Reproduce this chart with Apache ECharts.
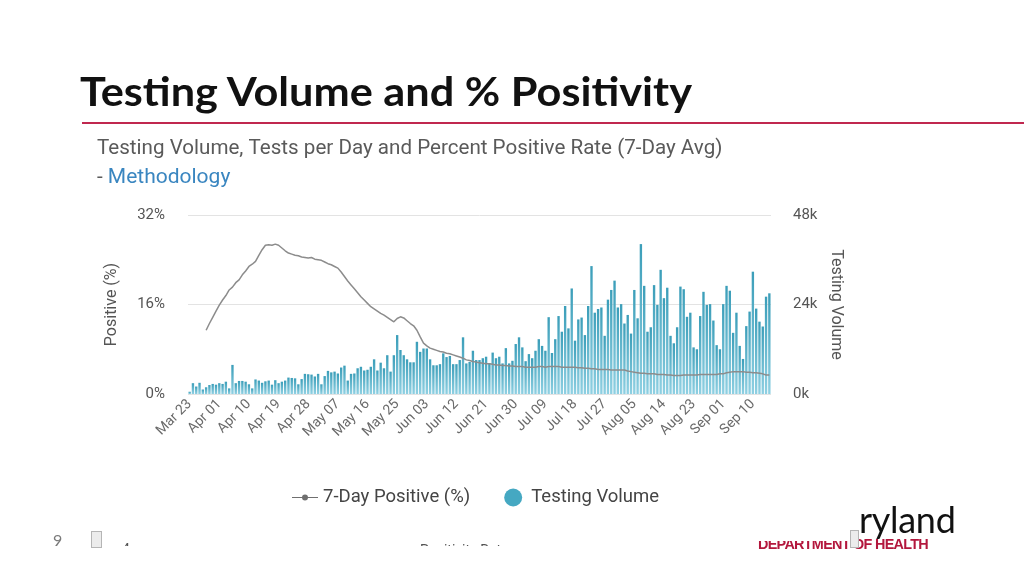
<!DOCTYPE html>
<html>
<head>
<meta charset="utf-8">
<script src="https://cdn.jsdelivr.net/npm/echarts@6/dist/echarts.min.js"></script>
<style>
  html, body { margin: 0; padding: 0; background: #fff; }
  #slide { position: relative; width: 1024px; height: 576px; overflow: hidden; background: #fff; }
  #chart { position: absolute; left: 0; top: 0; width: 1024px; height: 576px; }
  .abs { position: absolute; white-space: nowrap; }
  #title { left: 80px; top: 66px; font-family: Lato, "Open Sans", sans-serif; font-weight: 700; font-size: 41px; color: #111; transform-origin: 0 0; }
  #rule { left: 82px; top: 122px; width: 942px; height: 2px; background: #c0284f; }
  #pagenum { left: 53px; top: 530px; font-family: Lato, sans-serif; font-size: 16px; color: #7a7a7a; }
  .ph { position: absolute; background: #ececec; border: 1px solid #b5b5b5; }
  #ryland { left: 859px; top: 497px; font-family: Lato, "Open Sans", sans-serif; font-size: 36px; color: #111; letter-spacing: -0.3px; }
  #dept { left: 758px; top: 536px; font-family: "Liberation Sans", Arial, sans-serif; font-weight: 700; font-size: 14px; color: #b3173d; letter-spacing: -0.7px; transform-origin: 0 0; }
  #deptMask { left: 755px; top: 528px; width: 95px; height: 13px; background: #fff; }
  .clip { position: absolute; overflow: hidden; }
  .clip span { position: absolute; left: 0; top: 0; font-family: Roboto, sans-serif; color: #555; white-space: nowrap; }
</style>
</head>
<body>
<div id="slide">
  <div id="chart"></div>
  <div id="title" class="abs">Testing Volume and % Positivity</div>
  <div id="rule" class="abs"></div>
  <div id="pagenum" class="abs">9</div>
  <div class="ph" style="left:91px; top:531px; width:9px; height:15px;"></div>
  <div class="clip" style="left:122px; top:541px; width:12px; height:5px;"><span style="font-size:14px;">4</span></div>
  <div class="clip" style="left:420px; top:542px; width:130px; height:4px;"><span style="font-size:14px;">Positivity Rate</span></div>
  <div id="ryland" class="abs">ryland</div>
  <div id="dept" class="abs">DEPARTMENT OF HEALTH</div>
  <div id="deptMask" class="abs"></div>
  <div class="ph" style="left:850px; top:530px; width:7px; height:16px;"></div>
</div>
<script>
// ---- data ----
const startDate = '2020-03-23';
const labelEvery = 9;
const positiveTicks = [0, 16, 32];
const volumeTicks = [0, 24000, 48000];

const testingVolume = [
  600, 2900, 2000, 3000, 1200, 1800, 2400, 2700, 2500, 2900,
  2700, 3300, 1500, 7800, 2900, 3500, 3500, 3300, 2600, 1500,
  3900, 3600, 3000, 3400, 3600, 2500, 3700, 2900, 3300, 3600,
  4400, 4300, 4200, 2600, 4000, 5400, 5300, 5200, 4700, 5400,
  2600, 4800, 6200, 5800, 6000, 5500, 7100, 7600, 3600, 5400,
  5500, 6900, 7300, 6300, 6500, 7300, 9300, 6300, 8400, 6900,
  10400, 6000, 10400, 15800, 11800, 10400, 9300, 8500, 8500, 14000,
  11300, 12200, 12200, 9300, 7700, 7700, 8000, 10900, 9900, 10200,
  8000, 8000, 9100, 15200, 8200, 8600, 11600, 9100, 9100, 9600,
  10000, 8200, 11100, 9600, 10000, 8200, 12300, 8200, 8900, 13400,
  15200, 12500, 8800, 10700, 9600, 11600, 14700, 12900, 11600, 20600,
  11000, 14700, 20900, 16700, 23600, 17600, 28300, 14300, 20000, 20500,
  15800, 23600, 34300, 21800, 22800, 23200, 15600, 25300, 27900, 30400,
  23200, 24100, 18900, 21200, 16200, 27900, 20300, 40200, 29000, 16700,
  17900, 29200, 23900, 33300, 25700, 28500, 15600, 13600, 17900, 28800,
  28100, 20700, 21800, 12500, 12000, 20900, 27400, 23900, 24100, 19700,
  13100, 12000, 24100, 29000, 27700, 16400, 21800, 12900, 9400, 18200,
  22100, 32800, 22900, 19400, 18100, 26100, 27000
];

const positivePct = [
  null, null, null, null, null,
  11.4, 12.6, 13.7, 14.8, 15.9, 16.8, 17.6, 18.6, 19.1, 19.9,
  20.4, 21.3, 22.0, 22.8, 23.2, 23.7, 24.8, 25.8, 26.6, 26.7,
  26.6, 26.8, 26.6, 26.1, 25.6, 25.2, 25.0, 24.8, 24.7, 24.5,
  24.4, 24.3, 24.4, 24.1, 24.0, 23.9, 23.6, 23.3, 23.1, 22.8,
  22.5, 21.8, 21.0, 20.2, 19.5, 18.8, 18.1, 17.4, 16.8, 16.2,
  15.6, 15.2, 14.8, 14.4, 14.1, 13.7, 13.3, 12.9, 13.5, 13.8,
  13.6, 13.1, 12.6, 12.2, 11.4, 10.2, 9.1, 8.6, 8.2, 8.0,
  7.8, 7.6, 7.5, 7.3, 7.2, 7.0, 6.8, 6.6, 6.4, 6.1,
  6.0, 5.8, 5.7, 5.6, 5.5, 5.4, 5.4, 5.3, 5.2, 5.2,
  5.1, 5.1, 5.0, 5.0, 4.9, 4.9, 4.9, 4.8, 4.8, 4.8,
  4.8, 4.9, 4.9, 4.8, 4.9, 4.9, 4.9, 4.9, 4.8, 4.8,
  4.8, 4.8, 4.8, 4.7, 4.7, 4.6, 4.6, 4.5, 4.5, 4.4,
  4.4, 4.4, 4.4, 4.3, 4.3, 4.3, 4.3, 4.3, 4.1, 4.0,
  3.9, 3.8, 3.7, 3.7, 3.6, 3.6, 3.6, 3.5, 3.5, 3.5,
  3.4, 3.4, 3.3, 3.3, 3.3, 3.4, 3.4, 3.4, 3.4, 3.4,
  3.5, 3.5, 3.5, 3.5, 3.5, 3.5, 3.6, 3.6, 3.8, 3.9,
  4.0, 4.0, 4.0, 4.0, 3.9, 3.9, 3.8, 3.8, 3.7, 3.6,
  3.4, 3.4
];

// ---- categories (dates) ----
const monthNames = ['Jan','Feb','Mar','Apr','May','Jun','Jul','Aug','Sep','Oct','Nov','Dec'];
const categories = [];
(function () {
  const d0 = new Date(startDate + 'T12:00:00Z');
  for (let i = 0; i < testingVolume.length; i++) {
    const d = new Date(d0.getTime() + i * 86400000);
    const dd = String(d.getUTCDate()).padStart(2, '0');
    categories.push(monthNames[d.getUTCMonth()] + ' ' + dd);
  }
})();

// fit slide title / logo text widths
(function () {
  const t = document.getElementById('title');
  t.style.transform = 'scaleX(' + (612 / t.getBoundingClientRect().width) + ')';
  const d = document.getElementById('dept');
  d.style.transform = 'scaleX(' + (170 / d.getBoundingClientRect().width) + ')';
})();

const chart = echarts.init(document.getElementById('chart'), null, { renderer: 'canvas' });
const textFont = 'Roboto, "Open Sans", sans-serif';

chart.setOption({
  animation: false,
  backgroundColor: 'transparent',
  title: {
    text: 'Testing Volume, Tests per Day and Percent Positive Rate (7-Day Avg)',
    subtext: '{d|- }{m|Methodology}',
    left: 92,
    top: 133,
    itemGap: 8,
    textStyle: { fontFamily: textFont, fontWeight: 'normal', fontSize: 20.6, color: '#5a5a5a' },
    subtextStyle: {
      fontFamily: textFont, fontSize: 20.6,
      rich: {
        d: { fontFamily: textFont, fontSize: 20.6, color: '#5a5a5a' },
        m: { fontFamily: textFont, fontSize: 21, color: '#3a86c0' }
      }
    }
  },
  legend: {
    left: 287,
    top: 483,
    itemGap: 34,
    itemWidth: 26,
    itemHeight: 18,
    textStyle: { fontFamily: textFont, fontSize: 18.5, color: '#444' },
    data: [
      { name: '7-Day Positive (%)', icon: 'path://M13,0 M13,18 M0,8.4 L26,8.4 L26,9.6 L0,9.6 Z M16,9 A3,3 0 1 1 10,9 A3,3 0 1 1 16,9 Z', itemStyle: { color: '#6f6f6f' } },
      { name: 'Testing Volume', icon: 'circle', itemStyle: { color: '#45a8c2' } }
    ]
  },
  grid: { left: 188, right: 253, top: 215, bottom: 182, containLabel: false },
  xAxis: {
    type: 'category',
    data: categories,
    boundaryGap: true,
    axisLine: { show: false },
    axisTick: { show: false },
    axisLabel: {
      interval: labelEvery - 1,
      rotate: 45,
      margin: 8,
      fontFamily: textFont,
      fontSize: 14,
      color: '#6a6a6a'
    }
  },
  yAxis: [
    {
      type: 'value',
      min: positiveTicks[0],
      max: positiveTicks[positiveTicks.length - 1],
      interval: positiveTicks[1] - positiveTicks[0],
      name: 'Positive (%)',
      nameLocation: 'middle',
      nameRotate: 90,
      nameGap: 68,
      nameTextStyle: { fontFamily: textFont, fontSize: 16, color: '#555' },
      axisLine: { show: false },
      axisTick: { show: false },
      axisLabel: { formatter: '{value}%', margin: 23, fontFamily: textFont, fontSize: 15, color: '#555' },
      splitLine: { show: true, lineStyle: { color: '#e3e3e3', width: 1 } }
    },
    {
      type: 'value',
      min: volumeTicks[0],
      max: volumeTicks[volumeTicks.length - 1],
      interval: volumeTicks[1] - volumeTicks[0],
      name: 'Testing Volume',
      nameLocation: 'middle',
      nameRotate: -90,
      nameGap: 57,
      nameTextStyle: { fontFamily: textFont, fontSize: 16, color: '#555' },
      axisLine: { show: false },
      axisTick: { show: false },
      axisLabel: {
        formatter: function (v) { return (v / 1000) + 'k'; },
        margin: 22, fontFamily: textFont, fontSize: 15, color: '#555'
      },
      splitLine: { show: false }
    }
  ],
  series: [
    {
      name: '7-Day Positive (%)',
      type: 'line',
      yAxisIndex: 0,
      data: positivePct,
      symbol: 'circle',
      symbolSize: 5,
      showSymbol: false,
      connectNulls: false,
      z: 5,
      lineStyle: { color: '#8c8c8c', width: 1.5 },
      itemStyle: { color: '#7a7a7a' }
    },
    {
      name: 'Testing Volume',
      type: 'bar',
      yAxisIndex: 1,
      data: testingVolume,
      barCategoryGap: '28%',
      z: 2,
      itemStyle: {
        color: new echarts.graphic.LinearGradient(0, 0, 0, 1, [
          { offset: 0, color: '#3b9eb9' },
          { offset: 1, color: '#8fd0e2' }
        ])
      }
    }
  ]
});
</script>
</body>
</html>
